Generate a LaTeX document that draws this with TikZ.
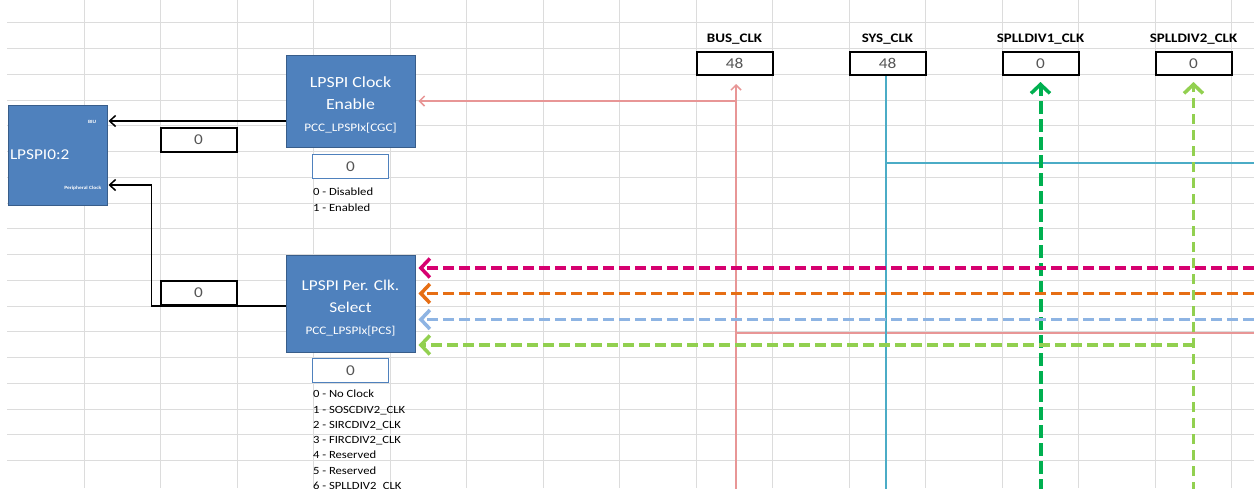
\documentclass[tikz,border=0pt]{standalone}
\usepackage{fontspec}
\setmainfont{Carlito}[FakeStretch=1.15]
\usetikzlibrary{arrows.meta,positioning,calc}
\definecolor{boxblue}{RGB}{79,129,189}
\definecolor{boxedge}{RGB}{56,93,138}
\definecolor{gridgray}{RGB}{220,220,220}
\definecolor{valtext}{RGB}{85,85,85}
\definecolor{busred}{RGB}{232,150,150}
\definecolor{syscyan}{RGB}{75,172,198}
\definecolor{pllgreen}{RGB}{0,176,80}
\definecolor{limegreen}{RGB}{146,208,80}
\definecolor{hotpink}{RGB}{214,0,112}
\definecolor{darkorange}{RGB}{230,110,20}
\definecolor{skyblue}{RGB}{142,180,227}

\begin{document}
\begin{tikzpicture}[x=1pt,y=-1pt,
    gridln/.style={draw=gridgray, line width=0.9pt},
    regbox/.style={draw=boxedge, fill=boxblue, line width=1pt, text=white, align=center,
        minimum width=129pt, inner sep=0pt, font=\fontsize{15.5}{22}\selectfont},
    valblue/.style={draw=boxblue, line width=1.4pt, fill=white, minimum width=76pt,
        minimum height=24pt, inner sep=0pt, text=valtext, font=\fontsize{15}{15}\selectfont},
    valblack/.style={valblue, draw=black, line width=2pt},
    notes/.style={anchor=north west, align=left, inner sep=0pt, font=\fontsize{11}{15.3}\selectfont},
    tinytxt/.style={text=white, inner sep=0pt, font=\bfseries\fontsize{4.8}{5}\selectfont},
    clklbl/.style={inner sep=1pt, label distance=5pt, font=\bfseries\fontsize{13}{13}\selectfont},
    blkarr/.style={draw=black, line width=1.5pt, -{Straight Barb[length=6pt,width=11pt]}, shorten >=1pt},
    thinln/.style={line width=1.5pt},
    dasharr/.style={line width=3.5pt, dash pattern=on 11pt off 5pt,
        -{Straight Barb[length=9pt,width=19pt,line width=3.5pt]}, shorten >=3pt}]

\clip (0,0) rectangle (1254,488);
\fill[white] (0,0) rectangle (1254,488);

% sheet grid
\foreach \k in {1,...,16}
    \draw[gridln] ({7.5+76.5*\k},0) -- ({7.5+76.5*\k},488);
\foreach \j in {1,...,18}
    \draw[gridln] (7,{100+25.75*(\j-4)}) -- (1254,{100+25.75*(\j-4)});

\coordinate (btm) at (0,492);
\coordinate (busrow) at (1254,333);
\coordinate (sysrow) at (1254,163);
\coordinate (pinkrow) at (1254,268);
\coordinate (orangerow) at (1254,293.5);
\coordinate (bluerow) at (1254,319.5);
\coordinate (limerow) at (0,345);

% peripheral
\node[regbox, minimum width=99pt, minimum height=100pt, text width=95pt, align=left,
    font=\fontsize{15}{15}\selectfont] (lpspi) at (57.5,155) {LPSPI0:2};
\node[tinytxt, anchor=east] (biu) at ($(lpspi.north east)+(-11,17)$) {BIU};
\node[tinytxt, anchor=east] (pclk) at ($(lpspi.south east)+(-6,-17)$) {Peripheral Clock};

% clock gate
\node[regbox, minimum height=92pt] (en) at (350.5,101)
    {\rule{0pt}{19pt}LPSPI Clock\\Enable\\{\fontsize{11.5}{20}\selectfont PCC\_LPSPIx[CGC]}};
\node[valblue, below=6pt of en] (envalue) {0};
\node[notes] (enlist) at ($(envalue.south west)+(1,9)$) {0 - Disabled\\1 - Enabled};
\node[valblack] (cgcval) at (198.5,140) {0};

% clock select
\node[regbox, minimum height=97pt, font=\fontsize{15}{22}\selectfont] (sel) at (350.5,303.5)
    {\rule{0pt}{19pt}LPSPI Per. Clk.\\Select\\{\fontsize{11.5}{20}\selectfont PCC\_LPSPIx[PCS]}};
\node[valblue, below=5pt of sel] (selvalue) {0};
\node[notes] (sellist) at ($(selvalue.south west)+(1,7)$)
    {0 - No Clock\\1 - SOSCDIV2\_CLK\\2 - SIRCDIV2\_CLK\\3 - FIRCDIV2\_CLK\\
     4 - Reserved\\5 - Reserved\\6 - SPLLDIV2\_CLK};
\node[valblack] (pcsval) at (198.5,292.5) {0};

% clock sources
\node[valblack, minimum height=23pt, label={[clklbl]above:BUS\_CLK}] (bus) at (734.5,63.5) {48};
\node[valblack, minimum height=23pt, label={[clklbl]above:SYS\_CLK}] (sys) at (887.5,63.5) {48};
\node[valblack, minimum height=23pt, label={[clklbl]above:SPLLDIV1\_CLK}] (div1) at (1040.5,63.5) {0};
\node[valblack, minimum height=23pt, label={[clklbl]above:SPLLDIV2\_CLK}] (div2) at (1193.5,63.5) {0};

% connections
\draw[blkarr] ($(en.west)+(0,20)$) coordinate (enout) -- (enout -| lpspi.east);
\draw[blkarr] ($(sel.west)+(0,2.5)$) -- ++(-134,0) |- ($(lpspi.east)+(0,30)$);

\draw[busred, thinln, -{Straight Barb[length=5pt,width=10pt]}, shorten >=8pt]
    ([xshift=1.5pt]bus.south |- btm) -- ([xshift=1.5pt]bus.south);
\draw[busred, thinln, -{Straight Barb[length=5pt,width=10pt]}, shorten >=3pt]
    ([xshift=1.5pt]bus.south |- en.east) -- (en.east);
\draw[busred, thinln] (busrow) -- ([xshift=1.5pt]bus.south |- busrow);

\draw[syscyan, thinln] ([xshift=-1.5pt]sys.south) -- ([xshift=-1.5pt]sys.south |- btm);
\draw[syscyan, thinln] ([xshift=-1.5pt]sys.south |- sysrow) -- (sysrow);

\draw[pllgreen, dasharr, dash pattern=on 13pt off 5pt, line width=4pt, shorten >=6pt]
    (div1.south |- btm) -- (div1.south);
\draw[limegreen, dasharr, line width=3pt, dash pattern=on 10pt off 6pt, shorten >=6pt]
    (div2.south |- btm) -- (div2.south);

\draw[hotpink, dasharr] (pinkrow) -- (pinkrow -| sel.east);
\draw[darkorange, dasharr] (orangerow) -- (orangerow -| sel.east);
\draw[skyblue, dasharr] (bluerow) -- (bluerow -| sel.east);
\draw[limegreen, dasharr] (div2.south |- limerow) -- (limerow -| sel.east);

\end{tikzpicture}
\end{document}
